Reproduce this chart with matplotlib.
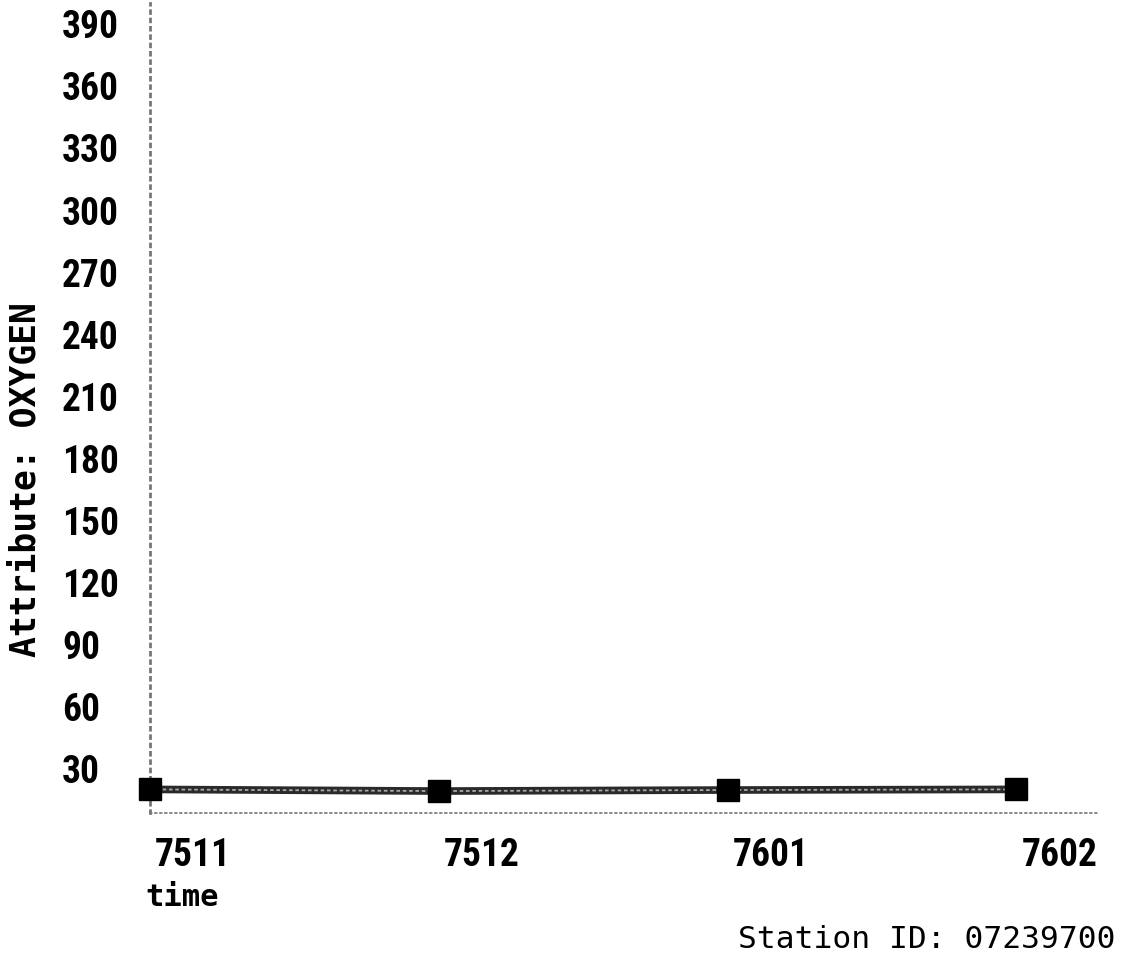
import matplotlib
matplotlib.use("Agg")
import matplotlib.pyplot as plt
import matplotlib.transforms as mtransforms
from matplotlib import font_manager

# ---- data ----
periods = ["7511", "7512", "7601", "7602"]
oxygen = [20.1, 19.3, 19.8, 20.1]
y_ticks = [30, 60, 90, 120, 150, 180, 210, 240, 270, 300, 330, 360, 390]
y_label = "Attribute: OXYGEN"
x_label = "time"
station = "Station ID: 07239700"

names = {f.name for f in font_manager.fontManager.ttflist}
tick_font = "DejaVu Sans Mono"
tick_size = 21
for cand, size in [("Roboto Condensed", 27), ("PT Sans Narrow", 28),
                   ("Liberation Sans Narrow", 27), ("Archivo Narrow", 27)]:
    if cand in names:
        tick_font, tick_size = cand, size
        break
mono = "DejaVu Sans Mono"

W, H = 1127, 961
fig = plt.figure(figsize=(W / 100, H / 100), dpi=100)
ax = fig.add_axes([150 / W, 1 - 813 / H, (1100 - 150) / W, (813 - 3) / H])

x = list(range(len(periods)))
ax.plot(x, oxygen, color="#2a2a2a", lw=5.5, solid_capstyle="butt", zorder=3, clip_on=False)
ax.plot(x, oxygen, color="#a8a8a8", lw=1.3, ls=(0, (2, 1.5)), zorder=4, clip_on=False)
ax.plot(x, oxygen, ls="none", marker="s", ms=15.5, mfc="black", mec="black", zorder=5, clip_on=False)

ax.set_xlim(0, 3.29)
ax.set_ylim(8.7, 400)

for s in ["top", "right"]:
    ax.spines[s].set_visible(False)
for s in ["left", "bottom"]:
    ax.spines[s].set_linestyle((0, (1, 2)))
    ax.spines[s].set_color("#777777")
    ax.spines[s].set_linewidth(1.2)
ax.spines["left"].set_linewidth(2.0)

ax.set_xticks(x)
ax.set_xticklabels(periods, fontfamily=tick_font, fontweight="bold", fontsize=tick_size, ha="left")
ax.set_yticks(y_ticks)
ax.set_yticklabels([str(v) for v in y_ticks], fontfamily=tick_font, fontweight="bold",
                   fontsize=tick_size, ha="left")
ax.tick_params(axis="both", length=0)
ax.tick_params(axis="x", pad=17)
ax.tick_params(axis="y", pad=(150 - 62) * 72 / 100)
for lab in ax.get_xticklabels():
    lab.set_transform(lab.get_transform() + mtransforms.ScaledTranslation(5 / 100, 0, fig.dpi_scale_trans))

fig.text(26 / W, 1 - 480 / H, y_label, rotation=90, ha="center", va="center",
         fontfamily=mono, fontweight="bold", fontsize=25)
fig.text(145 / W, 1 - 897 / H, x_label, ha="left", va="center",
         fontfamily=mono, fontweight="bold", fontsize=22)
fig.text(1115 / W, 1 - 939 / H, station, ha="right", va="center",
         fontfamily=mono, fontsize=22.5)

fig.savefig("out.png", dpi=100, facecolor="white")
